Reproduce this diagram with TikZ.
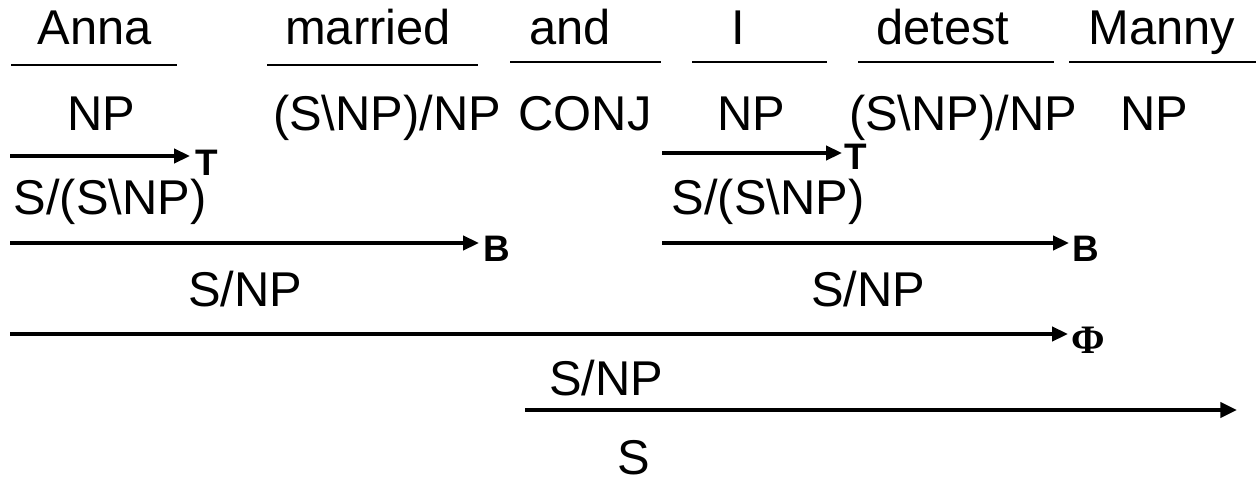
\documentclass[tikz,border=0pt]{standalone}
\usepackage{fontspec}
\setmainfont{Liberation Sans}
\newfontfamily\phifont{Liberation Serif}
\usetikzlibrary{arrows.meta}
\begin{document}
\begin{tikzpicture}[x=0.02cm,y=-0.02cm,
  cat/.style={anchor=base,inner sep=0pt,font=\fontsize{27.8}{30}\selectfont},
  rulelbl/.style={anchor=base west,inner sep=0pt,font=\bfseries\fontsize{21}{23}\selectfont},
  philbl/.style={anchor=base west,inner sep=0pt,font=\phifont\bfseries\fontsize{23}{25}\selectfont},
  lexline/.style={line width=1.3pt},
  deriv/.style={line width=2pt,-{Triangle[length=9pt,width=8pt]}},
  finalderiv/.style={line width=2.5pt,-{Triangle[length=9.5pt,width=8.5pt]}},
]
\useasboundingbox (0,0) rectangle (1256,483);

% words
\node[cat] (w1) at (95,45)   {Anna};
\node[cat] (w2) at (368,45)  {married};
\node[cat] (w3) at (570,45)  {and};
\node[cat] (w4) at (738,45)  {I};
\node[cat] (w5) at (943,45)  {detest};
\node[cat] (w6) at (1162,45) {Manny};

% lexical rules
\draw[lexline] (11,65)   -- (177,65);
\draw[lexline] (267,65)  -- (478,65);
\draw[lexline] (510,62)  -- (661,62);
\draw[lexline] (692,62)  -- (827,62);
\draw[lexline] (858,62)  -- (1054,62);
\draw[lexline] (1069,62) -- (1256,62);

% lexical categories
\node[cat] (c1) at (101,130)  {NP};
\node[cat] (c2) at (387,130)  {(S\textbackslash NP)/NP};
\node[cat] (c3) at (585,130)  {CONJ};
\node[cat] (c4) at (751,130)  {NP};
\node[cat] (c5) at (963,130)  {(S\textbackslash NP)/NP};
\node[cat] (c6) at (1154,130) {NP};

% type raising
\coordinate (t1s) at (10,156);  \coordinate (t1e) at (190,156);
\draw[deriv] (t1s) -- (t1e);
\node[rulelbl] (t1l) at (195,175) {T};
\coordinate (t2s) at (662,153); \coordinate (t2e) at (842,153);
\draw[deriv] (t2s) -- (t2e);
\node[rulelbl] (t2l) at (844,169) {T};

\node[cat] (r1) at (110,214) {S/(S\textbackslash NP)};
\node[cat] (r2) at (768,214) {S/(S\textbackslash NP)};

% composition
\coordinate (b1s) at (10,243);  \coordinate (b1e) at (479,243);
\draw[deriv] (b1s) -- (b1e);
\node[rulelbl] (b1l) at (483,261) {B};
\coordinate (b2s) at (662,243); \coordinate (b2e) at (1069,243);
\draw[deriv] (b2s) -- (b2e);
\node[rulelbl] (b2l) at (1072,261) {B};

\node[cat] (s1) at (245,306) {S/NP};
\node[cat] (s2) at (868,306) {S/NP};

% coordination
\coordinate (ps) at (10,334); \coordinate (pe) at (1068,334);
\draw[deriv] (ps) -- (pe);
\node[philbl] (pl) at (1071,353) {Φ};

\node[cat] (s3) at (606,395) {S/NP};

% application
\coordinate (as) at (525,410); \coordinate (ae) at (1237,410);
\draw[finalderiv] (as) -- (ae);

\node[cat,text depth=0pt] (s4) at (634,474) {S};
\end{tikzpicture}
\end{document}
